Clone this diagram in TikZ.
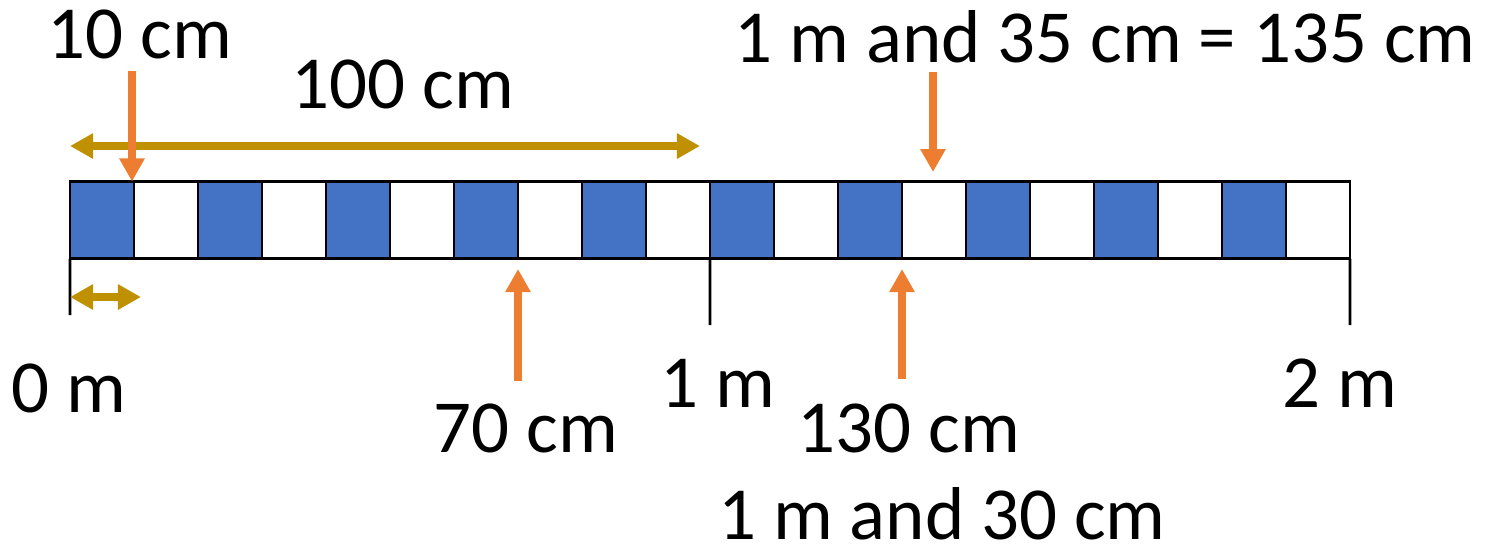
\documentclass[tikz,border=0pt]{standalone}
\usepackage{fontspec}
\setmainfont{Carlito}
\usetikzlibrary{positioning,arrows.meta}
\definecolor{cellblue}{HTML}{4472C4}
\definecolor{markorange}{HTML}{ED7D31}
\definecolor{spangold}{HTML}{BF9000}

\begin{document}
\begin{tikzpicture}[
  x=0.01cm, y=-0.01cm,
  cell/.style={draw=black,line width=0.8pt,minimum width=0.64cm,minimum height=0.77cm,inner sep=0pt,outer sep=0pt},
  lbl/.style={anchor=base,inner sep=0pt,text depth=0pt},
  markarrow/.style={markorange,line width=2.3pt,-{Triangle[length=0.23cm,width=0.24cm]}},
  spanarrow/.style={spangold,line width=2.3pt,{Triangle[length=0.23cm,width=0.24cm]}-{Triangle[length=0.23cm,width=0.24cm]}},
  tick/.style={black,line width=0.8pt},
  font=\fontsize{21.3}{25}\selectfont
]
\useasboundingbox (0,0) rectangle (1487,550);
% the 20 cells of the 2 m strip
\foreach \i in {0,...,19}{
  \pgfmathsetmacro{\cx}{102+64*\i}
  \ifodd\i
    \node[cell,fill=white] (c\i) at (\cx,220) {};
  \else
    \node[cell,fill=cellblue] (c\i) at (\cx,220) {};
  \fi
}
% ticks under the strip
\coordinate (k0) at (70,315);
\coordinate (k1) at (710,325);
\coordinate (k2) at (1350,325);
\draw[tick] (c0.south west) -- (k0);
\draw[tick] (c9.south east) -- (k1);
\draw[tick] (c19.south east) -- (k2);
% labels
\node[lbl] (l10) at (140,58) {10 cm};
\node[lbl] (l100) at (403,108) {100 cm};
\node[lbl] (l135) at (1105,62) {1 m and 35 cm = 135 cm};
\node[lbl] (l0m) at (69,412) {0 m};
\node[lbl] (l70) at (526,452) {70 cm};
\node[lbl] (l1m) at (718,407) {1 m};
\node[lbl] (l130) at (909,452) {130 cm};
\node[lbl] (l2m) at (1340,407) {2 m};
\node[lbl] (l1m30) at (942,539) {1 m and 30 cm};
% spans
\coordinate (s0) at (70,146);
\coordinate (s1) at (700,146);
\coordinate (u0) at (70,297);
\coordinate (u1) at (141,297);
\draw[spanarrow] (s0) -- (s1);
\draw[spanarrow] (u0) -- (u1);
% pointers
\coordinate (p10) at (132,71);
\coordinate (p135) at (933,72);
\coordinate (q135) at (933,172);
\coordinate (p70) at (518,381);
\coordinate (q70) at (518,269);
\coordinate (p130) at (902,379);
\coordinate (q130) at (902,269);
\draw[markarrow] (p10) -- (p10 |- c0.north);
\draw[markarrow] (p135) -- (q135);
\draw[markarrow] (p70) -- (q70);
\draw[markarrow] (p130) -- (q130);
\end{tikzpicture}
\end{document}
